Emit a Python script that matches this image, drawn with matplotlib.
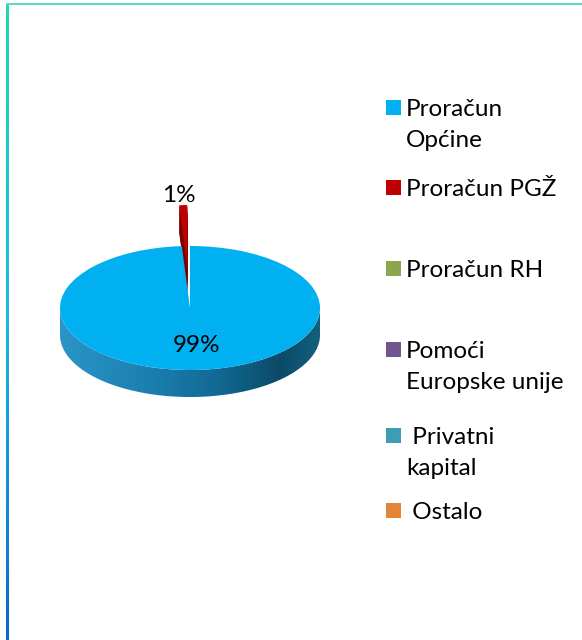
import matplotlib.pyplot as plt
import matplotlib.colors as mcolors
from matplotlib.patches import Polygon, Rectangle
import numpy as np

plt.rcParams['font.family'] = ['Lato', 'DejaVu Sans']

# data
labels = ['Proračun\nOpćine', 'Proračun PGŽ', 'Proračun RH',
          'Pomoći\nEuropske unije', ' Privatni\nkapital', ' Ostalo']
values = [99, 1, 0, 0, 0, 0]
colors = ['#00B0F0', '#C00000', '#8BA64E', '#71558F', '#3F9DB3', '#E48436']
explode = [0, 0.66, 0, 0, 0, 0]

fig = plt.figure(figsize=(5.82, 6.40), dpi=100)

# background axes in pixel units for the frame lines and the legend
bg = fig.add_axes([0, 0, 1, 1])
bg.set_xlim(0, 582)
bg.set_ylim(640, 0)
bg.axis('off')

edge_cmap = mcolors.LinearSegmentedColormap.from_list(
    'edge', ['#20D8B2', '#19B8E8', '#0A68CE'])
bg.imshow(np.linspace(0, 1, 200).reshape(-1, 1), cmap=edge_cmap,
          extent=[5.8, 8, 640, 3], aspect='auto', zorder=1)
bg.add_patch(Rectangle((6, 3), 576, 2.2, facecolor='#58DCC6',
                       edgecolor='none', zorder=1))

# legend drawn by hand so the marker sits on the first text line
leg_y = [100, 180, 261, 342, 428, 503]
for lab, col, y in zip(labels, colors, leg_y):
    bg.add_patch(Rectangle((386, y), 14.5, 14.5, facecolor=col,
                           edgecolor='none'))
    for i, line in enumerate(lab.split('\n')):
        bg.text(406, y + 16 + i * 31, line, fontsize=17.5, va='baseline',
                ha='left', color='black')

# pie axes, stretched so the circle becomes the tilted ellipse
ax = fig.add_axes([60 / 582, 1 - 410 / 640, 260 / 582, 220 / 640])
depth = 27 / 62
xlim = (-1, 1)
ylim = (-(410 - 308) / 62, (308 - 190) / 62)

# front side of the big slice with a horizontal shading
side_cmap = mcolors.LinearSegmentedColormap.from_list(
    'side', [(0, '#2A95C8'), (0.35, '#1B7EB0'), (0.6, '#126A94'),
             (0.85, '#0B4A68'), (1, '#15607F')])
t = np.linspace(np.pi, 2 * np.pi, 200)
pts = np.vstack([np.column_stack([np.cos(t), np.sin(t)]),
                 np.column_stack([np.cos(t[::-1]), np.sin(t[::-1]) - depth])])
side = Polygon(pts, closed=True, facecolor='none', edgecolor='none')
ax.add_patch(side)
img = ax.imshow(np.linspace(0, 1, 256).reshape(1, -1), cmap=side_cmap,
                extent=[-1, 1, -1 - depth, 0.1], aspect='auto', zorder=1)
img.set_clip_path(side)

# thickness of the exploded small slice
side_cols = ['none', '#7A0000', 'none', 'none', 'none', 'none']
n = 14
for k in range(n, 0, -1):
    ax.pie(values, colors=side_cols, startangle=90, counterclock=False,
           explode=explode, center=(0, -k * depth / n),
           wedgeprops=dict(zorder=2))

# top faces
wedges, _, autotexts = ax.pie(
    values, colors=colors, startangle=90, counterclock=False,
    explode=explode, autopct=lambda p: '%.0f%%' % p if p > 0.5 else '',
    pctdistance=0.6, wedgeprops=dict(zorder=3),
    textprops=dict(fontsize=17.5, color='black', zorder=4))

# the small slice label sits above and a little left of the slice
w = wedges[1]
th = np.deg2rad((w.theta1 + w.theta2) / 2)
autotexts[1].set_position((w.center[0] + 1.15 * np.cos(th) - 0.03,
                           w.center[1] + 1.15 * np.sin(th)))
x0, y0 = autotexts[0].get_position()
autotexts[0].set_position((x0 + 0.03, y0))

ax.set_xlim(*xlim)
ax.set_ylim(*ylim)
ax.set_aspect('auto')
ax.axis('off')

fig.savefig('out.png', dpi=100)
